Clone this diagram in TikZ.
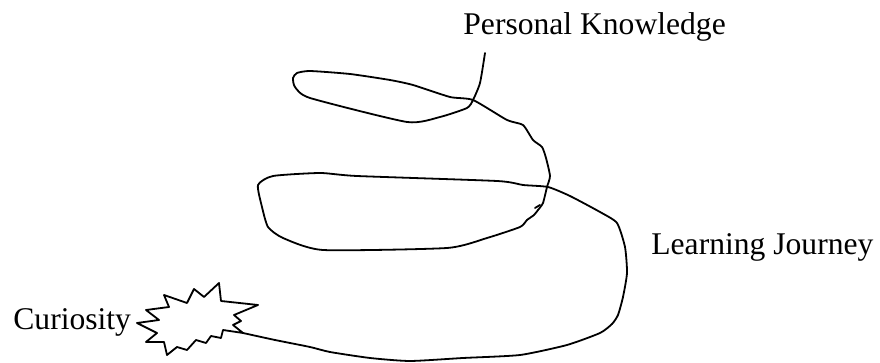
\documentclass[tikz,border=0pt]{standalone}
\usepackage{fontspec}
\setmainfont{Liberation Serif}
\usepackage{tikz}
\usetikzlibrary{positioning}

\begin{document}
\begin{tikzpicture}[x=0.5pt, y=-0.5pt,
    pen/.style={line width=0.9pt, line join=round, line cap=round},
    words/.style={font=\fontsize{15.8}{18}\selectfont, inner sep=0pt, anchor=base west}]
  \useasboundingbox (0,0) rectangle (880,363);
  % labels
  \node[words] (knowledge) at (463,35) {Personal Knowledge};
  \node[words] (journey) at (651,255) {Learning Journey};
  \node[words] (curiosity) at (13,330) {Curiosity};
  % the spark
  \draw[pen] (137,323) -- (159,320) -- (146,310) -- (169,307) -- (164,295)
    -- (187,303) -- (194,289) -- (204,297) -- (219,283) -- (221,301)
    -- (258,305) -- (234,315) -- (241,321) -- (233,325) -- (243,333)
    -- (223,330) -- (221,338) -- (211,336) -- (206,343) -- (196,340)
    -- (187,350) -- (177,347) -- (167,355) -- (164,342) -- (146,342)
    -- (157,333) -- cycle;
  \coordinate (spark) at (243,333);
  \coordinate (top) at (485,53);
  % the journey, spark to knowledge
  \draw[pen] plot[smooth, tension=0.35] coordinates {
    (spark) (275,340) (310,347) (330,352) (370,358) (410,361) (463,358)
    (520,355) (567,345) (600,333) (612,324) (618,315) (623,297) (627,273)
    (625,247) (617,223) (600,212) (570,196) (548,187) (523,185) (497,181)
    (357,176) (320,173) (273,176) (258,185) (262,207) (268,227) (283,238)
    (323,250) (447,248) (487,238) (520,227) (527,220) (534,215) (538,210)
    (543,203) (547,187) (550,176) (546,158) (542,147) (533,140) (523,125)
    (507,120) (473,100) (450,97) (413,85) (390,80) (350,74) (310,71)
    (297,73) (293,78) (295,87) (310,98) (407,122) (440,117) (467,108)
    (473,100) (480,83) (top)};
  \draw[pen] (535,208) -- (540,205);
\end{tikzpicture}
\end{document}
